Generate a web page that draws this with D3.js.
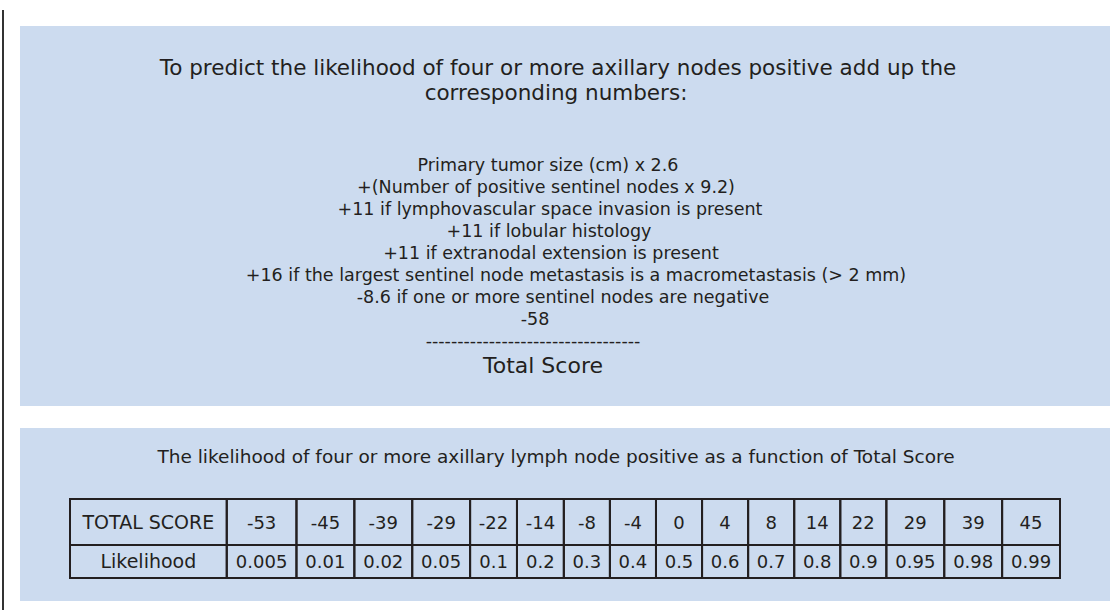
<!DOCTYPE html>
<html>
<head>
<meta charset="utf-8">
<script src="https://cdn.jsdelivr.net/npm/d3@7"></script>
<style>
  body { margin: 0; background: #fff; }
  text { font-family: "DejaVu Sans", "Liberation Sans", sans-serif; fill: #231f20; }
</style>
</head>
<body>
<script>
const titleLines = [
  "To predict the likelihood of four or more axillary nodes positive add up the",
  "corresponding numbers:"
];

const formulaLines = [
  "Primary tumor size (cm) x 2.6",
  "+(Number of positive sentinel nodes x 9.2)",
  "+11 if lymphovascular space invasion is present",
  "+11 if lobular histology",
  "+11 if extranodal extension is present",
  "+16 if the largest sentinel node metastasis is a macrometastasis (> 2 mm)",
  "-8.6 if one or more sentinel nodes are negative",
  "-58",
  "----------------------------------"
];

const totalLabel = "Total Score";

const tableTitle = "The likelihood of four or more axillary lymph node positive as a function of Total Score";

const rowLabels = ["TOTAL SCORE", "Likelihood"];
const totalScores = [-53, -45, -39, -29, -22, -14, -8, -4, 0, 4, 8, 14, 22, 29, 39, 45];
const likelihoods = ["0.005", "0.01", "0.02", "0.05", "0.1", "0.2", "0.3", "0.4", "0.5", "0.6", "0.7", "0.8", "0.9", "0.95", "0.98", "0.99"];

const width = 1110,
  height = 610,
  panelFill = "#ccdbef",
  ink = "#231f20";

// the block is not centred on one axis in the original, so each line keeps its own centre
const titleCentres = [558, 556];
const formulaCentres = [548, 546, 550, 549, 551, 576, 563, 535, 533];

const svg = d3.select("body")
  .append("svg")
  .attr("width", width)
  .attr("height", height);

// left rule
svg.append("line")
  .attr("x1", 3).attr("x2", 3)
  .attr("y1", 10).attr("y2", height)
  .attr("stroke", "#333")
  .attr("stroke-width", 2);

// panels
svg.append("rect")
  .attr("x", 20).attr("y", 26)
  .attr("width", width - 20).attr("height", 380)
  .attr("fill", panelFill);

svg.append("rect")
  .attr("x", 20).attr("y", 428)
  .attr("width", width - 20).attr("height", 173)
  .attr("fill", panelFill);

// heading
svg.selectAll(".title")
  .data(titleLines)
  .enter()
  .append("text")
  .attr("class", "title")
  .attr("x", (d, i) => titleCentres[i])
  .attr("y", (d, i) => 75 + i * 25)
  .attr("text-anchor", "middle")
  .style("font-size", "21.5px")
  .text(d => d);

// formula
const lineY = d3.scaleLinear().domain([0, 1]).range([171, 193]);

svg.selectAll(".formula")
  .data(formulaLines)
  .enter()
  .append("text")
  .attr("class", "formula")
  .attr("x", (d, i) => formulaCentres[i])
  .attr("y", (d, i) => lineY(i))
  .attr("text-anchor", "middle")
  .style("font-size", "17.5px")
  .text(d => d);

svg.append("text")
  .attr("x", 543)
  .attr("y", 373)
  .attr("text-anchor", "middle")
  .style("font-size", "22px")
  .text(totalLabel);

// table
svg.append("text")
  .attr("x", 556)
  .attr("y", 463)
  .attr("text-anchor", "middle")
  .style("font-size", "18.5px")
  .text(tableTitle);

const rows = [
  [rowLabels[0], ...totalScores.map(String)],
  [rowLabels[1], ...likelihoods]
];

// column widths follow the widest entry in each column, like an auto-fit table
const measure = svg.append("text").style("font-size", "18px");
const colWeights = rows[0].map((d, i) => {
  const w = d3.max(rows, r => {
    measure.text(r[i]);
    return measure.node().getComputedTextLength();
  });
  return w + (i === 0 ? 27 : 16);
});
measure.remove();

const edges = [0, ...d3.cumsum(colWeights)];
const x = d3.scaleLinear().domain([0, edges[edges.length - 1]]).range([70, 1060]);
const rowEdges = [499, 545, 578];

const table = svg.append("g");

rows.forEach((row, r) => {
  const cells = table.selectAll(".row" + r)
    .data(row)
    .enter()
    .append("g")
    .attr("class", "row" + r);

  cells.append("rect")
    .attr("x", (d, i) => x(edges[i]))
    .attr("y", rowEdges[r])
    .attr("width", (d, i) => x(edges[i + 1]) - x(edges[i]))
    .attr("height", rowEdges[r + 1] - rowEdges[r])
    .attr("fill", "none")
    .attr("stroke", ink)
    .attr("stroke-width", 2);

  cells.append("text")
    .attr("x", (d, i) => (x(edges[i]) + x(edges[i + 1])) / 2)
    .attr("y", (rowEdges[r] + rowEdges[r + 1]) / 2 + 6.5)
    .attr("text-anchor", "middle")
    .style("font-size", (d, i) => i === 0 ? "19px" : "18px")
    .text(d => d);
});
</script>
</body>
</html>
